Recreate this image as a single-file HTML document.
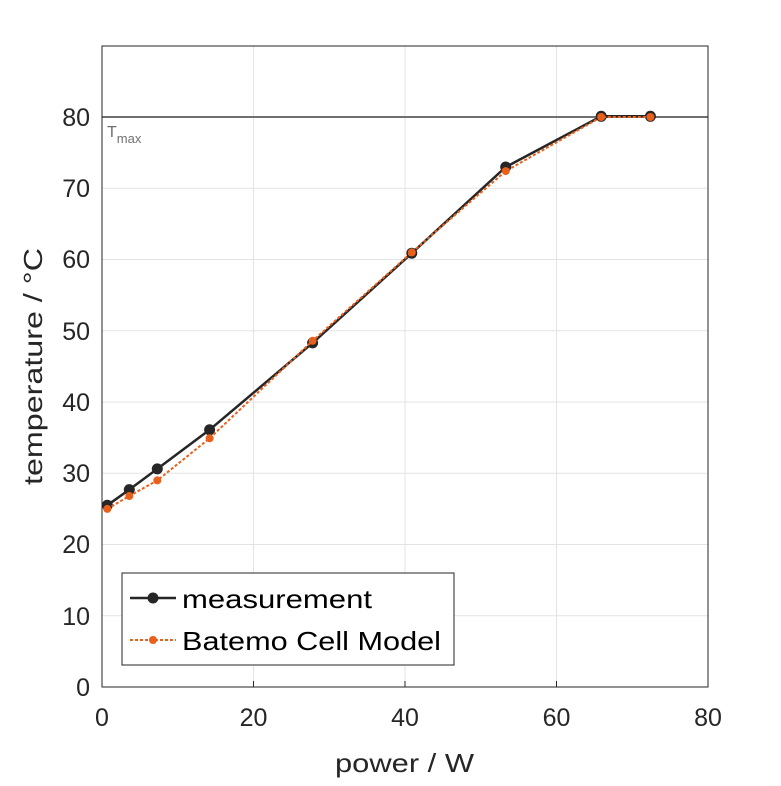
<!DOCTYPE html>
<html><head><meta charset="utf-8"><style>body{margin:0;background:#fff}</style></head><body>
<svg width="781" height="781" xmlns="http://www.w3.org/2000/svg" font-family="Liberation Sans, DejaVu Sans, sans-serif">
<rect width="781" height="781" fill="#fff"/>
<g stroke="#e3e3e3" stroke-width="1">
<line x1="253.5" y1="46" x2="253.5" y2="687"/><line x1="405" y1="46" x2="405" y2="687"/><line x1="556.5" y1="46" x2="556.5" y2="687"/>
<line x1="102" y1="615.75" x2="708" y2="615.75"/><line x1="102" y1="544.5" x2="708" y2="544.5"/><line x1="102" y1="473.25" x2="708" y2="473.25"/><line x1="102" y1="402" x2="708" y2="402"/><line x1="102" y1="330.75" x2="708" y2="330.75"/><line x1="102" y1="259.5" x2="708" y2="259.5"/><line x1="102" y1="188.25" x2="708" y2="188.25"/>
</g>
<line x1="102" y1="117" x2="708" y2="117" stroke="#707070" stroke-width="2"/>
<text x="107" y="137" font-size="16" fill="#707070">T<tspan font-size="13" dy="6">max</tspan></text>
<rect x="102" y="46" width="606" height="641" fill="none" stroke="#262626" stroke-width="1"/>
<g stroke="#262626">
<line x1="102" y1="687" x2="102" y2="681"/><line x1="253.5" y1="687" x2="253.5" y2="681"/><line x1="405" y1="687" x2="405" y2="681"/><line x1="556.5" y1="687" x2="556.5" y2="681"/>
</g>
<polyline fill="none" stroke="#262626" stroke-width="2.5" points="107.3,505.3 129.3,489.6 157.3,468.9 209.6,429.8 312.6,342.9 411.8,253.2 505.7,167 601.2,116.3 650.4,116.3"/>
<g fill="#262626">
<circle cx="107.3" cy="505.3" r="5.5"/><circle cx="129.3" cy="489.6" r="5.5"/><circle cx="157.3" cy="468.9" r="5.5"/><circle cx="209.6" cy="429.8" r="5.5"/><circle cx="312.6" cy="342.9" r="5.5"/><circle cx="411.8" cy="253.2" r="5.5"/><circle cx="505.7" cy="167" r="5.5"/><circle cx="601.2" cy="116.3" r="5.5"/><circle cx="650.4" cy="116.3" r="5.5"/>
</g>
<polyline fill="none" stroke="#e8601c" stroke-width="2" stroke-dasharray="3,2" points="107.3,508.9 129.3,496 157.3,480.4 209.6,438.3 312.6,340.8 411.8,252.4 505.7,171.1 601.2,117 650.4,117"/>
<g fill="#e8601c">
<circle cx="107.3" cy="508.9" r="4"/><circle cx="129.3" cy="496" r="4"/><circle cx="157.3" cy="480.4" r="4"/><circle cx="209.6" cy="438.3" r="4"/><circle cx="312.6" cy="340.8" r="4"/><circle cx="411.8" cy="252.4" r="4"/><circle cx="505.7" cy="171.1" r="4"/><circle cx="601.2" cy="117" r="4"/><circle cx="650.4" cy="117" r="4"/>
</g>
<g font-size="25" fill="#262626" text-anchor="end">
<text x="90" y="696">0</text><text x="90" y="625">10</text><text x="90" y="553">20</text><text x="90" y="482">30</text><text x="90" y="411">40</text><text x="90" y="340">50</text><text x="90" y="268">60</text><text x="90" y="197">70</text><text x="90" y="126">80</text>
</g>
<g font-size="25" fill="#262626" text-anchor="middle">
<text x="102" y="726">0</text><text x="253.5" y="726">20</text><text x="405" y="726">40</text><text x="556.5" y="726">60</text><text x="708" y="726">80</text>
</g>
<text x="335" y="772" font-size="26" fill="#262626" textLength="139" lengthAdjust="spacingAndGlyphs">power / W</text>
<text transform="translate(42,485) rotate(-90)" font-size="26" fill="#262626" textLength="237" lengthAdjust="spacingAndGlyphs">temperature / °C</text>
<rect x="122" y="573" width="332" height="92" fill="#fff" stroke="#262626" stroke-width="1"/>
<line x1="130" y1="598" x2="176" y2="598" stroke="#262626" stroke-width="2.5"/>
<circle cx="153" cy="598" r="5.5" fill="#262626"/>
<line x1="130" y1="640" x2="176" y2="640" stroke="#e8601c" stroke-width="2" stroke-dasharray="3,2"/>
<circle cx="153" cy="640" r="4" fill="#e8601c"/>
<g font-size="26" fill="#000">
<text x="182" y="608" textLength="190" lengthAdjust="spacingAndGlyphs">measurement</text>
<text x="182" y="650" textLength="259" lengthAdjust="spacingAndGlyphs">Batemo Cell Model</text>
</g>
</svg>
</body></html>
